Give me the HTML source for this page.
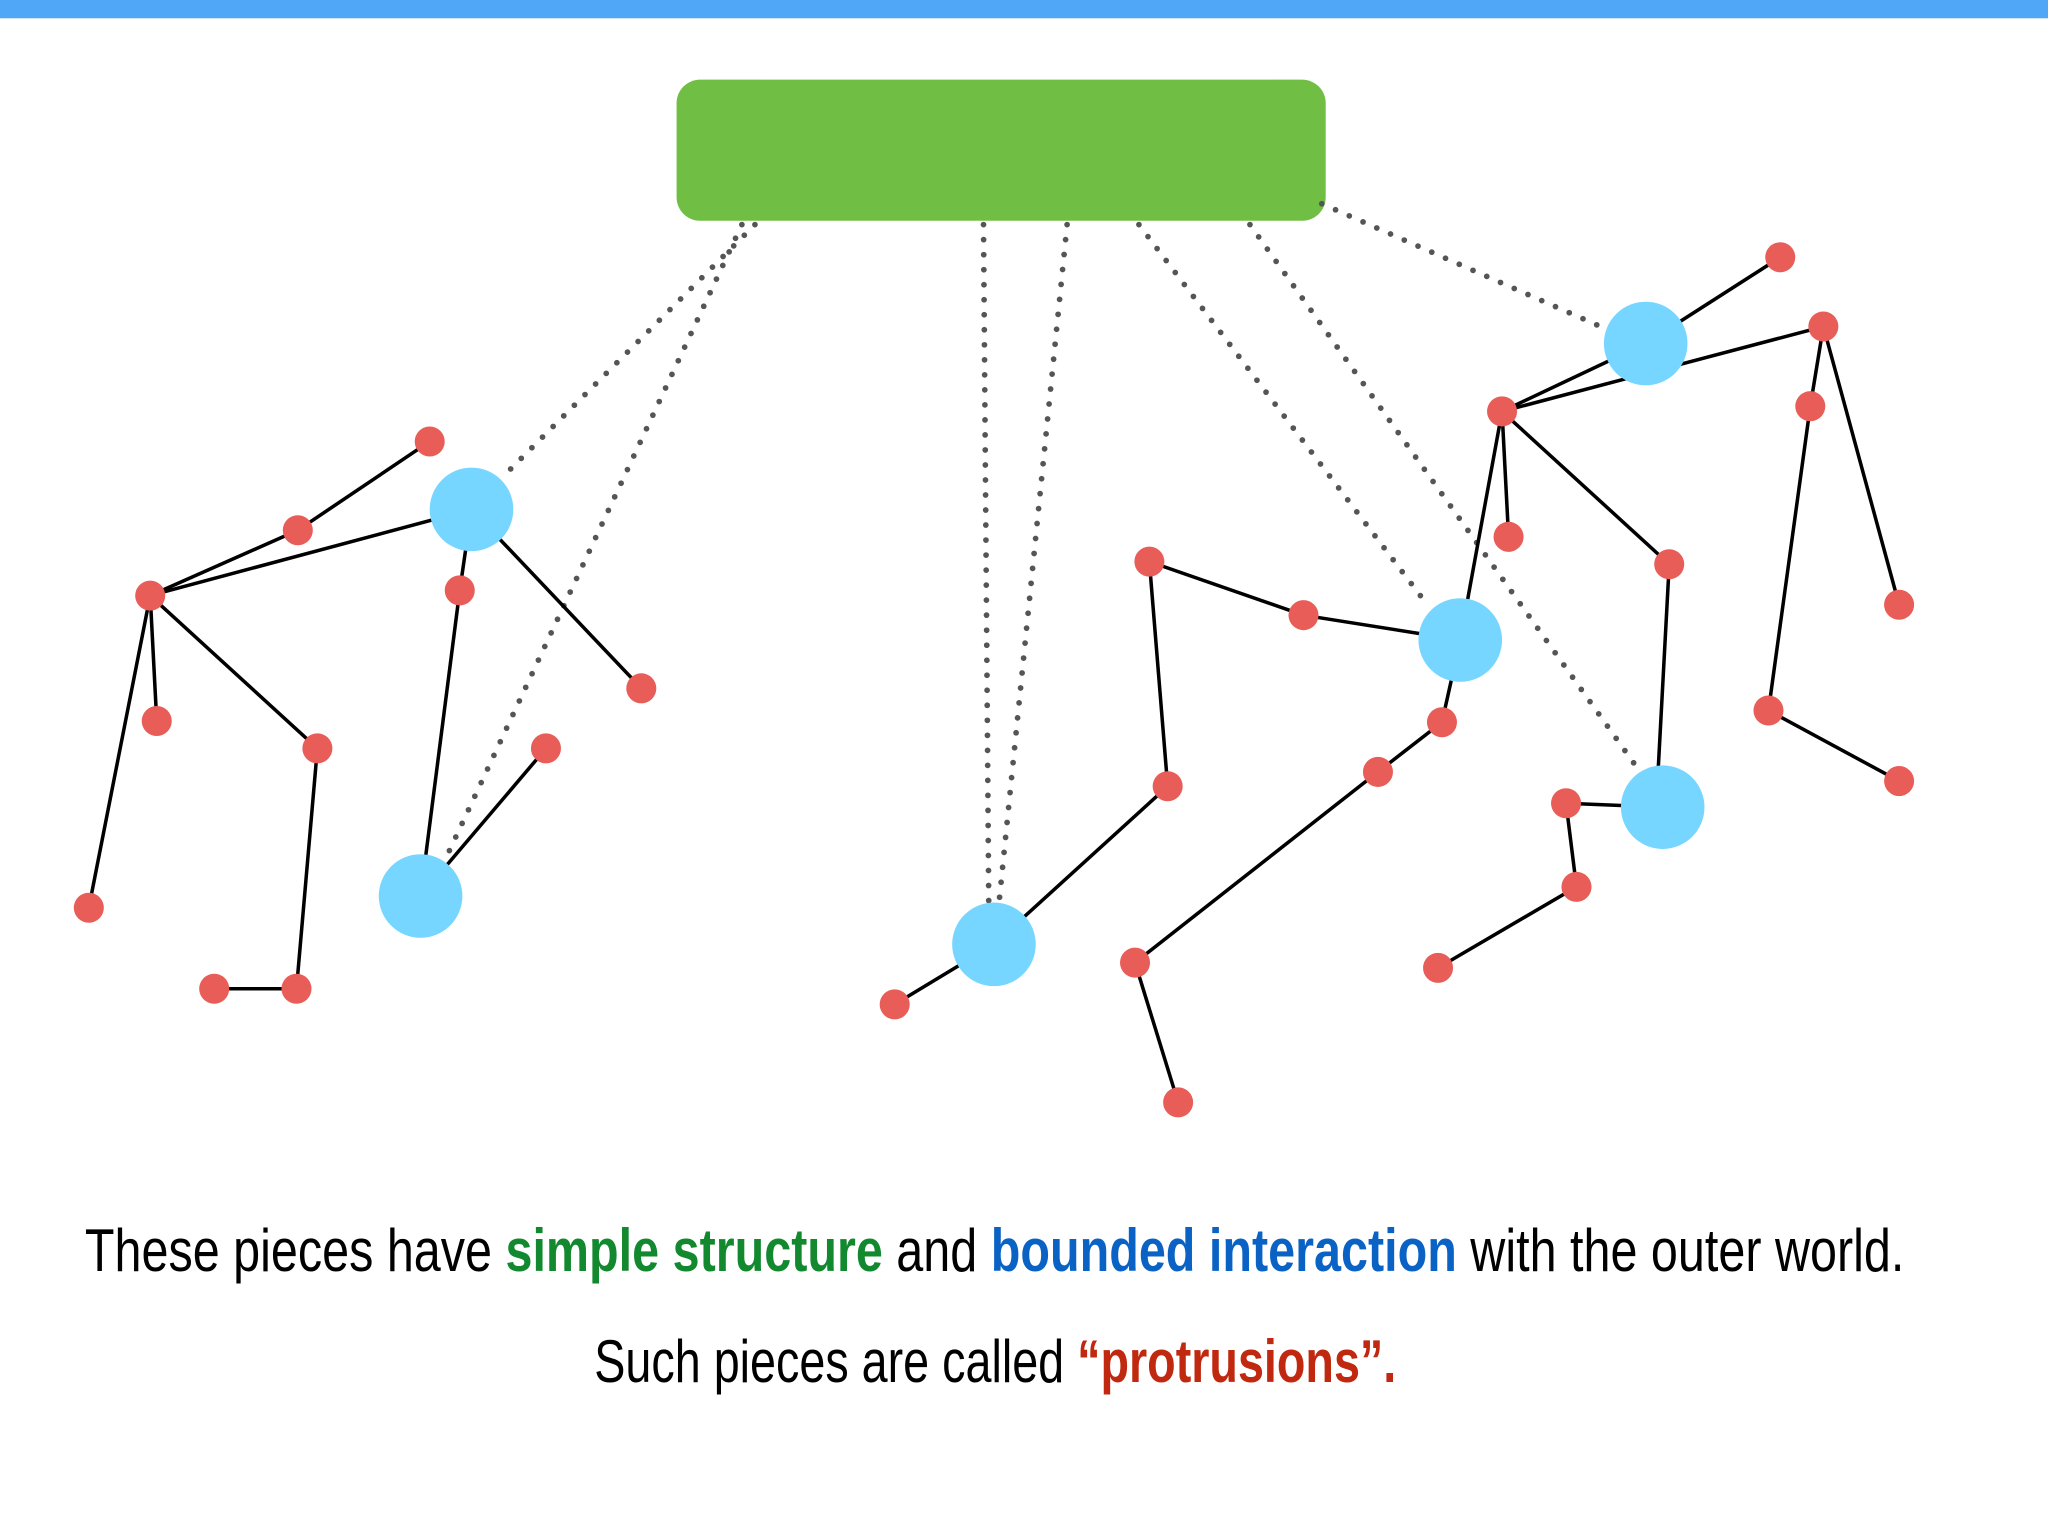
<!DOCTYPE html>
<html><head><meta charset="utf-8"><style>
html,body{margin:0;padding:0;background:#fff;}
svg{display:block}
</style></head><body>
<svg width="2048" height="1536" viewBox="0 0 1568 1176" xmlns="http://www.w3.org/2000/svg">
<rect x="0" y="0" width="1568" height="14" fill="#51a7f7"/>
<rect x="518" y="61" width="497" height="108" rx="18" fill="#70bf44"/>
<g stroke="#555" stroke-width="4.4" stroke-linecap="round" stroke-dasharray="0 11.5" fill="none">
<line x1="578" y1="172" x2="388" y2="362"/>
<line x1="568" y1="172" x2="340" y2="660"/>
<line x1="753" y1="172" x2="757" y2="690"/>
<line x1="817" y1="172" x2="765" y2="690"/>
<line x1="872" y1="172" x2="1092" y2="462"/>
<line x1="957" y1="172" x2="1255" y2="590"/>
<line x1="1012" y1="156" x2="1230" y2="252"/>
</g>
<g stroke="#000" stroke-width="2.7" fill="none">
<line x1="329" y1="338" x2="228" y2="406"/>
<line x1="228" y1="406" x2="115" y2="456"/>
<line x1="115" y1="456" x2="361" y2="390"/>
<line x1="361" y1="390" x2="352" y2="452"/>
<line x1="352" y1="452" x2="322" y2="686"/>
<line x1="361" y1="390" x2="491" y2="527"/>
<line x1="115" y1="456" x2="120" y2="552"/>
<line x1="115" y1="456" x2="68" y2="695"/>
<line x1="115" y1="456" x2="243" y2="573"/>
<line x1="243" y1="573" x2="227" y2="757"/>
<line x1="227" y1="757" x2="164" y2="757"/>
<line x1="322" y1="686" x2="418" y2="573"/>
<line x1="685" y1="769" x2="761" y2="723"/>
<line x1="761" y1="723" x2="894" y2="602"/>
<line x1="894" y1="602" x2="880" y2="430"/>
<line x1="880" y1="430" x2="998" y2="471"/>
<line x1="998" y1="471" x2="1118" y2="490"/>
<line x1="1118" y1="490" x2="1104" y2="553"/>
<line x1="1104" y1="553" x2="1055" y2="591"/>
<line x1="1055" y1="591" x2="869" y2="737"/>
<line x1="869" y1="737" x2="902" y2="844"/>
<line x1="1118" y1="490" x2="1150" y2="315"/>
<line x1="1363" y1="197" x2="1260" y2="263"/>
<line x1="1260" y1="263" x2="1150" y2="315"/>
<line x1="1150" y1="315" x2="1396" y2="250"/>
<line x1="1396" y1="250" x2="1386" y2="311"/>
<line x1="1386" y1="311" x2="1354" y2="544"/>
<line x1="1354" y1="544" x2="1454" y2="598"/>
<line x1="1396" y1="250" x2="1454" y2="463"/>
<line x1="1150" y1="315" x2="1155" y2="411"/>
<line x1="1150" y1="315" x2="1278" y2="432"/>
<line x1="1278" y1="432" x2="1268" y2="618"/>
<line x1="1273" y1="618" x2="1199" y2="615"/>
<line x1="1199" y1="615" x2="1207" y2="679"/>
<line x1="1207" y1="679" x2="1101" y2="741"/>
</g>
<g fill="#76d6ff">
<circle cx="361" cy="390" r="32"/>
<circle cx="322" cy="686" r="32"/>
<circle cx="761" cy="723" r="32"/>
<circle cx="1118" cy="490" r="32"/>
<circle cx="1260" cy="263" r="32"/>
<circle cx="1273" cy="618" r="32"/>
</g>
<g fill="#e85d58">
<circle cx="329" cy="338" r="11.5"/><circle cx="228" cy="406" r="11.5"/><circle cx="115" cy="456" r="11.5"/>
<circle cx="352" cy="452" r="11.5"/><circle cx="491" cy="527" r="11.5"/><circle cx="120" cy="552" r="11.5"/>
<circle cx="243" cy="573" r="11.5"/><circle cx="68" cy="695" r="11.5"/><circle cx="418" cy="573" r="11.5"/>
<circle cx="164" cy="757" r="11.5"/><circle cx="227" cy="757" r="11.5"/>
<circle cx="685" cy="769" r="11.5"/><circle cx="894" cy="602" r="11.5"/><circle cx="880" cy="430" r="11.5"/>
<circle cx="998" cy="471" r="11.5"/><circle cx="1104" cy="553" r="11.5"/><circle cx="1055" cy="591" r="11.5"/>
<circle cx="869" cy="737" r="11.5"/><circle cx="902" cy="844" r="11.5"/>
<circle cx="1363" cy="197" r="11.5"/><circle cx="1396" cy="250" r="11.5"/><circle cx="1150" cy="315" r="11.5"/>
<circle cx="1386" cy="311" r="11.5"/><circle cx="1454" cy="463" r="11.5"/><circle cx="1155" cy="411" r="11.5"/>
<circle cx="1278" cy="432" r="11.5"/><circle cx="1354" cy="544" r="11.5"/><circle cx="1454" cy="598" r="11.5"/>
<circle cx="1199" cy="615" r="11.5"/><circle cx="1207" cy="679" r="11.5"/><circle cx="1101" cy="741" r="11.5"/>
</g>
<g font-family="'Liberation Sans', sans-serif" font-size="46">
<text x="65" y="973" textLength="1393" lengthAdjust="spacingAndGlyphs">These pieces have <tspan fill="#13892f" font-weight="bold">simple structure</tspan> and <tspan fill="#0a63c4" font-weight="bold">bounded interaction</tspan> with the outer world.</text>
<text x="455" y="1058" textLength="614" lengthAdjust="spacingAndGlyphs">Such pieces are called <tspan fill="#c0290f" font-weight="bold">“protrusions”.</tspan></text>
</g>
</svg>
</body></html>
